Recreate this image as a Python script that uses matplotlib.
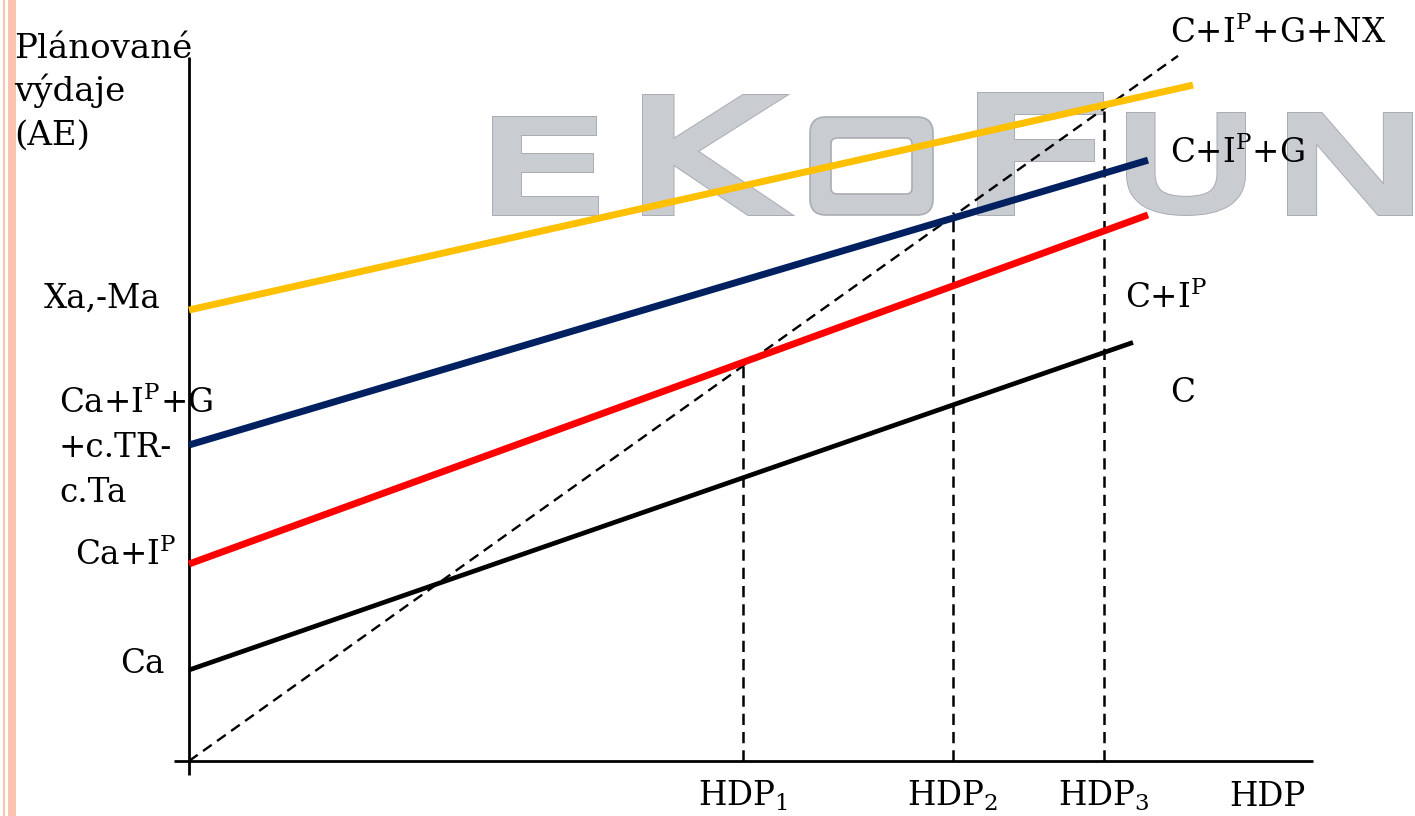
import numpy as np
import matplotlib
matplotlib.use("Agg")
import matplotlib.pyplot as plt
from matplotlib.textpath import TextPath
from matplotlib.font_manager import FontProperties
from matplotlib.patches import PathPatch, Rectangle, FancyBboxPatch
from matplotlib.transforms import Affine2D, IdentityTransform

plt.rcParams["font.family"] = ["DejaVu Serif"]
plt.rcParams["mathtext.fontset"] = "dejavuserif"

# Aggregate expenditure schedules: autonomous part + marginal propensity * HDP
series_names = ["C", "C+I$^{\\mathrm{P}}$", "C+I$^{\\mathrm{P}}$+G", "C+I$^{\\mathrm{P}}$+G+NX"]
intercepts = [91, 197, 316, 451]
slopes = [0.347, 0.364, 0.297, 0.224]
x_end = [944, 959, 959, 1004]
colors = ["#000000", "#ff0000", "#002060", "#ffc000"]
widths = [3.4, 5.0, 5.0, 5.0]

# line AE = HDP (in drawing units) and equilibrium outputs
diag_slope = 0.713
diag_end = 989
hdp_eq = [554, 764, 915]
hdp_labels = ["HDP$_{\\mathrm{1}}$", "HDP$_{\\mathrm{2}}$", "HDP$_{\\mathrm{3}}$"]

W, H = 1415, 816
X0, Y0 = 189, 761  # pixel position of the origin

fig = plt.figure(figsize=(W / 100, H / 100), dpi=100)
ax = fig.add_axes([0, 0, 1, 1])
ax.set_facecolor("none")
ax.set_xlim(-X0, W - X0)
ax.set_ylim(Y0 - H, Y0)
ax.axis("off")

# decorative stripes at the left edge
for x, w in [(3, 1.8), (8.3, 7.5)]:
    fig.add_artist(Rectangle((x / W, 0), w / W, 1, transform=fig.transFigure,
                             facecolor="#fbc4b1", edgecolor="none", zorder=-3))

# EKOFUN watermark, letter by letter
wm_face, wm_edge = "#c9ccd1", "#aaadb4"
fp = FontProperties(family="DejaVu Sans", weight="normal")
grow = 8.0  # extra stroke thickness in pixels
letters = [("E", 493, 117, 598, 215), ("K", 643, 95, 783, 215),
           ("F", 978, 93, 1103, 215),
           ("U", 1127, 113, 1245, 215), ("N", 1288, 113, 1412, 215)]
for ch, l, t, r, b in letters:
    tp = TextPath((0, 0), ch, size=100, prop=fp)
    ext = tp.get_extents()
    g = grow / 2
    tr = (Affine2D().translate(-ext.x0, -ext.y0)
          .scale((r - l - 2 * g) / ext.width, (b - t - 2 * g) / ext.height)
          .translate(l + g, H - b + g))
    path = tr.transform_path(tp)
    fig.add_artist(PathPatch(path, transform=IdentityTransform(),
                             facecolor=wm_edge, edgecolor=wm_edge,
                             linewidth=(grow + 2) * 0.72, joinstyle="miter", zorder=-2))
    fig.add_artist(PathPatch(path, transform=IdentityTransform(),
                             facecolor=wm_face, edgecolor=wm_face,
                             linewidth=grow * 0.72, joinstyle="miter", zorder=-2))
# squared "O"
ol, ot, orr, ob, sw = 810, 117, 933, 215, 21
fig.add_artist(FancyBboxPatch((ol + 12, H - ob + 12), orr - ol - 24, ob - ot - 24,
                              boxstyle="round,pad=12,rounding_size=16",
                              transform=IdentityTransform(),
                              facecolor=wm_face, edgecolor=wm_edge, lw=1.2, zorder=-2))
fig.add_artist(FancyBboxPatch((ol + sw + 6, H - ob + sw + 6), orr - ol - 2 * sw - 12,
                              ob - ot - 2 * sw - 12,
                              boxstyle="round,pad=6,rounding_size=6",
                              transform=IdentityTransform(),
                              facecolor="white", edgecolor=wm_edge, lw=1.2, zorder=-2))

# axes
ax.plot([0, 0], [-14, Y0 - 57], color="black", lw=2.0, solid_capstyle="butt")
ax.plot([-15, 1313 - X0], [0, 0], color="black", lw=2.0, solid_capstyle="butt")

dash = (0, (4.5, 2.8))
# diagonal
xd = np.array([0, diag_end])
ax.plot(xd, diag_slope * xd, color="black", lw=1.7, ls=dash)

# equilibrium verticals
for xe in hdp_eq:
    ax.plot([xe, xe], [0, diag_slope * xe + 4], color="black", lw=1.8, ls=dash)

# expenditure lines
for a, s, xe, c, lw in zip(intercepts, slopes, x_end, colors, widths):
    xs = np.array([0, xe])
    ax.plot(xs, a + s * xs, color=c, lw=lw, solid_capstyle="butt")

fs = 23.5


def label(px, baseline, text, size=fs):
    ax.text(px - X0, Y0 - baseline, text, fontsize=size, ha="left", va="baseline")


# vertical-axis title
label(14, 58, "Plánované", 24.5)
label(14, 101, "výdaje", 24.5)
label(14, 145, "(AE)", 24.5)

# intercept labels
label(44, 308, "Xa,-Ma")
label(59, 413, "Ca+I$^{\\mathrm{P}}$+G")
label(59, 457, "+c.TR-")
label(59, 502, "c.Ta")
label(75, 565, "Ca+I$^{\\mathrm{P}}$")
label(120, 673, "Ca")

# line labels
label(1170, 43, series_names[3])
label(1170, 163, series_names[2])
label(1125, 308, series_names[1])
label(1170, 402, series_names[0])

# horizontal-axis labels
for xe, t in zip(hdp_eq, hdp_labels):
    ax.text(xe, Y0 - 806, t, fontsize=fs, ha="center", va="baseline")
label(1229, 806, "HDP")

fig.savefig("out.png", dpi=100)
